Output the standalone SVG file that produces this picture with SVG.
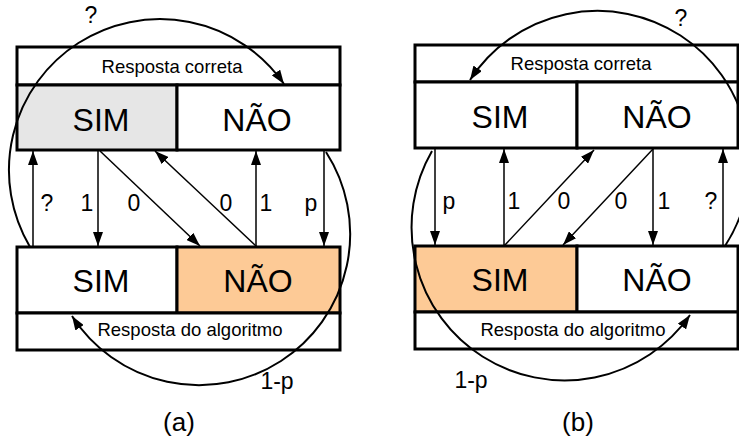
<svg xmlns="http://www.w3.org/2000/svg" width="739" height="443" viewBox="0 0 739 443">
<style>
.box{fill:#fff;stroke:#000;stroke-width:3}
.grey{fill:#e6e6e6}
.orange{fill:#fdca96}
text{font-family:"Liberation Sans",Arial,sans-serif;fill:#000;text-anchor:middle}
.big{font-size:32px}
.hdr{font-size:18.5px}
.lbl{font-size:23px}
.cap{font-size:26px}
.arr{stroke:#000;stroke-width:1.5;fill:none;marker-end:url(#ah)}
.arc{stroke:#000;stroke-width:2;fill:none;marker-end:url(#ah)}
</style>
<defs>
<marker id="ah" markerUnits="userSpaceOnUse" markerWidth="14" markerHeight="10" refX="14" refY="5" orient="auto" viewBox="0 0 14 10">
<path d="M0,0 L14,5 L0,10 z" fill="#000"/>
</marker>
</defs>
<rect width="739" height="443" fill="#fff"/>

<!-- Panel (a) -->
<g id="a-correta"><rect class="box" x="17" y="47" width="323" height="38"/><text class="hdr" x="172" y="73">Resposta correta</text></g>
<g id="a-top-sim"><rect class="box grey" x="17" y="85" width="160" height="65"/><text class="big" x="101" y="131">SIM</text></g>
<g id="a-top-nao"><rect class="box" x="177" y="85" width="163" height="65"/><text class="big" x="257" y="131">NÃO</text></g>
<g id="a-bot-sim"><rect class="box" x="17" y="247" width="160" height="66"/><text class="big" x="101" y="292">SIM</text></g>
<g id="a-bot-nao"><rect class="box orange" x="177" y="247" width="163" height="66"/><text class="big" x="258" y="292">NÃO</text></g>
<g id="a-algoritmo"><rect class="box" x="17" y="313" width="323" height="37"/><text class="hdr" x="190" y="336">Resposta do algoritmo</text></g>

<!-- Panel (b) -->
<g id="b-correta"><rect class="box" x="415" y="45" width="323" height="37"/><text class="hdr" x="581" y="70">Resposta correta</text></g>
<g id="b-top-sim"><rect class="box" x="415" y="82" width="162" height="66"/><text class="big" x="500" y="128">SIM</text></g>
<g id="b-top-nao"><rect class="box" x="577" y="82" width="161" height="66"/><text class="big" x="657" y="128">NÃO</text></g>
<g id="b-bot-sim"><rect class="box orange" x="415" y="246" width="162" height="66"/><text class="big" x="500" y="291">SIM</text></g>
<g id="b-bot-nao"><rect class="box" x="577" y="246" width="161" height="66"/><text class="big" x="657" y="291">NÃO</text></g>
<g id="b-algoritmo"><rect class="box" x="415" y="312" width="323" height="37"/><text class="hdr" x="573" y="336">Resposta do algoritmo</text></g>

<g id="connectors">
<!-- (a) -->
<path class="arr" d="M33,247 L33,151"/>
<path class="arr" d="M98,151 L98,246"/>
<path class="arr" d="M100,151 L200,246"/>
<path class="arr" d="M257,247 L155,151"/>
<path class="arr" d="M256,247 L256,151"/>
<path class="arr" d="M324,151 L324,246"/>
<path class="arc" d="M30,247 A151,151 0 0 1 284,84"/>
<path class="arc" d="M326,152 A151,151 0 0 1 72,316"/>
<!-- (b) -->
<path class="arr" d="M435,149 L435,245"/>
<path class="arr" d="M504,246 L504,149"/>
<path class="arr" d="M504,246 L594,150"/>
<path class="arr" d="M653,149 L563,245"/>
<path class="arr" d="M653,149 L653,245"/>
<path class="arr" d="M723,246 L723,149"/>
<path class="arc" d="M725,246 A152,152 0 0 0 470,80"/>
<path class="arc" d="M432,151 A153,153 0 0 0 690,315"/>
</g>

<g id="labels">
<text class="lbl" x="47" y="211">?</text>
<text class="lbl" x="87" y="211">1</text>
<text class="lbl" x="134" y="211">0</text>
<text class="lbl" x="226" y="211">0</text>
<text class="lbl" x="266" y="211">1</text>
<text class="lbl" x="311" y="211">p</text>
<text class="lbl" x="91" y="23">?</text>
<text class="lbl" x="277" y="389">1-p</text>
<text class="cap" x="179" y="431">(a)</text>

<text class="lbl" x="449" y="209">p</text>
<text class="lbl" x="514" y="209">1</text>
<text class="lbl" x="564" y="209">0</text>
<text class="lbl" x="621" y="209">0</text>
<text class="lbl" x="664" y="209">1</text>
<text class="lbl" x="711" y="209">?</text>
<text class="lbl" x="681" y="26">?</text>
<text class="lbl" x="471" y="388">1-p</text>
<text class="cap" x="578" y="431">(b)</text>
</g>
</svg>
